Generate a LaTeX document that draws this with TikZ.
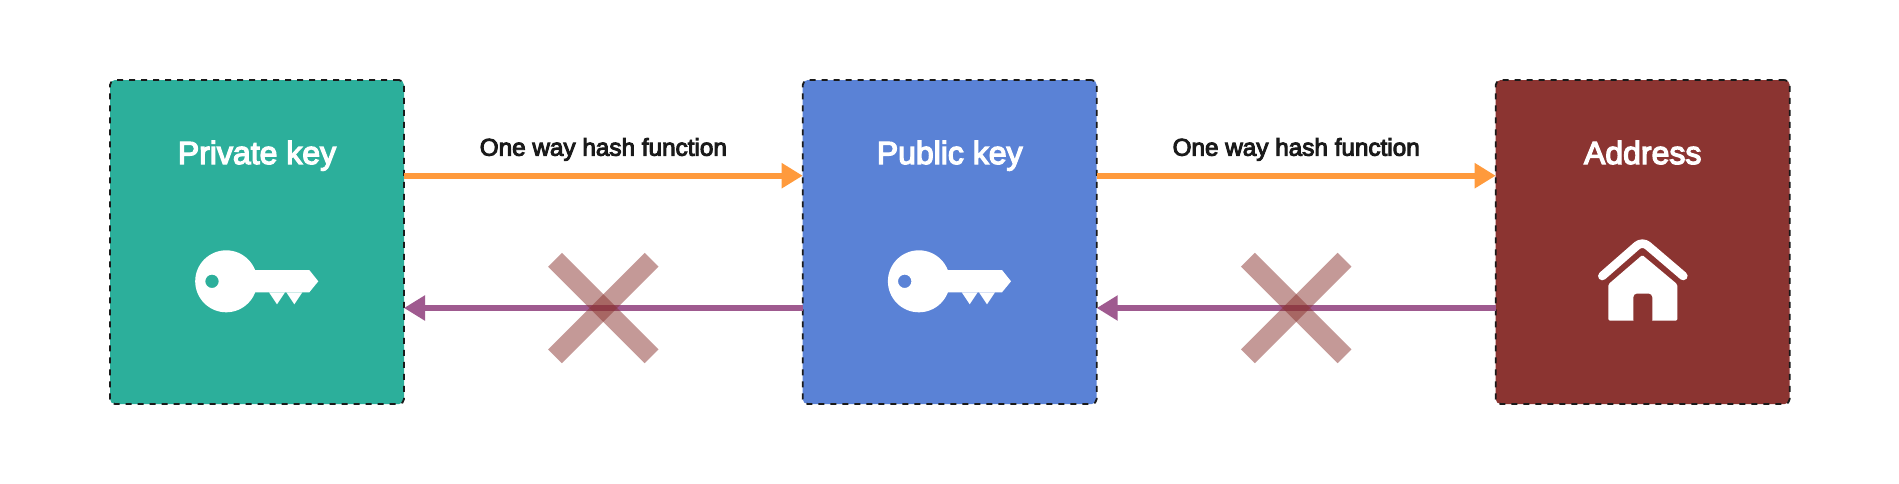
\documentclass[tikz,border=0pt]{standalone}
\usepackage{fontspec}
\setmainfont{Liberation Sans}[FakeBold=4]
\usetikzlibrary{arrows.meta}
\definecolor{teal1}{HTML}{2CAF9B}
\definecolor{blue1}{HTML}{5A82D6}
\definecolor{brown1}{HTML}{8B3431}
\definecolor{orange1}{HTML}{FF9A3C}
\definecolor{purple1}{HTML}{9F5A8F}
\definecolor{ink1}{HTML}{1A1A1A}
\tikzset{
  card/.style={draw=ink1, line width=1.8pt, dash pattern=on 6pt off 6pt, rounded corners=5pt,
    minimum width=294pt, minimum height=324pt, outer sep=0pt, inner sep=0pt, anchor=north west},
  cardtitle/.style={text=white, font=\fontsize{32}{32}\selectfont, inner sep=0pt, anchor=base},
  hashlabel/.style={text=ink1, font=\fontsize{24.3}{25}\selectfont, inner sep=0pt, anchor=base},
  forward/.style={draw=orange1, line width=6pt, -{Triangle[length=21pt,width=24pt]}},
  backward/.style={draw=purple1, line width=6pt, -{Triangle[length=21pt,width=24pt]}},
  crossbar/.style={draw=brown1, opacity=0.5, line width=19.6pt},
  pics/keyicon/.style={code={
    \fill[white,even odd rule] (226.2,-281.3) circle (31pt) (212,-281.3) circle (6.7pt);
    \fill[white] (250,-270) -- (309.3,-270) -- (318.3,-281.3) -- (309.3,-292.3) -- (250,-292.3) -- cycle;
    \fill[white] (269,-292.3) -- (277,-304.3) -- (285,-292.3) -- cycle;
    \fill[white] (286.3,-292.3) -- (294.3,-304.3) -- (302.3,-292.3) -- cycle;
  }}
}
\begin{document}
\begin{tikzpicture}[x=1pt,y=1pt]
\useasboundingbox (0,0) rectangle (1899,-483);
\fill[white] (0,0) rectangle (1899,-483);
\node[card, fill=teal1] (priv) at (110,-80) {};
\node[card, fill=blue1] (pub) at (802.7,-80) {};
\node[card, fill=brown1] (addr) at (1495.7,-80) {};
\node[cardtitle] (privt) at (257,-164) {Private key};
\node[cardtitle] (pubt) at (949.7,-164) {Public key};
\node[cardtitle] (addrt) at (1642.7,-164) {Address};
\draw[forward] ([yshift=66.3pt]priv.east) -- node[hashlabel, yshift=20pt] (h1) {One way hash function} ([yshift=66.3pt]pub.west);
\draw[forward] ([yshift=66.3pt]pub.east) -- node[hashlabel, yshift=20pt] (h2) {One way hash function} ([yshift=66.3pt]addr.west);
\draw[backward] ([yshift=-66pt]pub.west) -- coordinate (c1) ([yshift=-66pt]priv.east);
\draw[backward] ([yshift=-66pt]addr.west) -- coordinate (c2) ([yshift=-66pt]pub.east);
\foreach \c in {c1,c2}{
  \draw[crossbar] ([shift={(-48.3pt,48.3pt)}]\c) -- ([shift={(48.3pt,-48.3pt)}]\c);
  \draw[crossbar] ([shift={(-48.3pt,-48.3pt)}]\c) -- ([shift={(48.3pt,48.3pt)}]\c);
}
\pic at (0,0) {keyicon};
\pic at (692.7,0) {keyicon};
% house
\draw[white, line width=8.6pt, line cap=round, line join=round, rounded corners=7pt] (1602.3,-276) -- (1642.3,-241) -- (1683.3,-276);
\fill[white, rounded corners=1.5pt] (1608.3,-284.3) -- (1642.3,-255) -- (1677.3,-284.3) -- (1677.3,-320.7) -- (1608.3,-320.7) -- cycle;
\fill[brown1, rounded corners=4pt] (1633.3,-324) -- (1633.3,-293.5) -- (1652.3,-293.5) -- (1652.3,-324) -- cycle;
\end{tikzpicture}
\end{document}
